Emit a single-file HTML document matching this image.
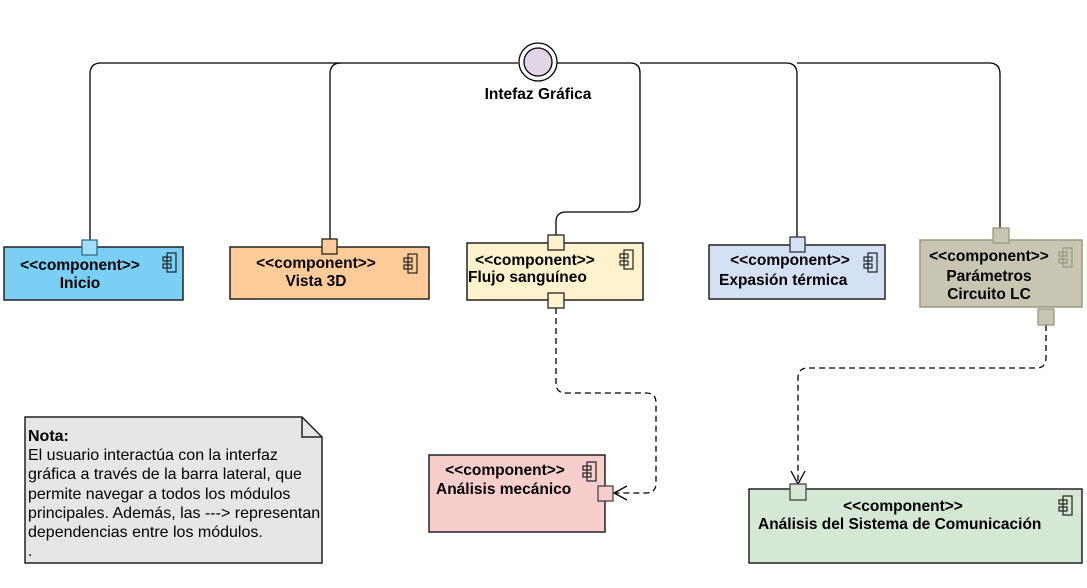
<!DOCTYPE html>
<html><head><meta charset="utf-8"><style>
html,body{margin:0;padding:0;background:#fff;}
svg{display:block;font-family:"Liberation Sans",Arial,sans-serif;}
.b{font-weight:bold;font-size:15.5px;fill:#000;}
</style></head><body>
<svg width="1087" height="588" viewBox="0 0 1087 588" xmlns="http://www.w3.org/2000/svg">
<g fill="none" stroke="#000" stroke-width="1.3">
<path d="M90 240 V74 Q90 63 101 63 H518"/>
<path d="M330 239 V74 Q330 63 341 63"/>
<path d="M557 63 H630 Q640 63 640 73 V202 Q640 212 630 212 H566 Q556 212 556 222 V235"/>
<path d="M640 63 H786 Q797 63 797 74 V237"/>
<path d="M797 63 H989 Q1000 63 1000 74 V228"/>
</g>
<g fill="none" stroke="#000" stroke-width="1.3" stroke-dasharray="6,4">
<path d="M556 308 V383 Q556 393 566 393 H646 Q656 393 656 403 V483 Q656 493 646 493 H614"/>
<path d="M1046 325 V358 Q1046 368 1036 368 H808 Q798 368 798 378 V484"/>
</g>
<g fill="none" stroke="#000" stroke-width="1.3">
<path d="M627 486 L614 493 L627 500"/>
<path d="M791 471 L798 484 L805 471"/>
</g>
<circle cx="538" cy="62" r="19" fill="#fff" stroke="#000" stroke-width="1.3"/>
<circle cx="538" cy="62" r="14" fill="#e1d5e7" stroke="#000" stroke-width="1.3"/>
<text x="538" y="99" text-anchor="middle" class="b">Intefaz Gráfica</text>

<rect x="4" y="247" width="179" height="53" fill="#7acff5" stroke="#222" stroke-width="1.5"/>
<rect x="82" y="240" width="15" height="15" fill="#a0dff7" stroke="#2d6f8f" stroke-width="1.3"/>
<text x="80" y="270" text-anchor="middle" class="b">&lt;&lt;component&gt;&gt;</text>
<text x="80" y="288" text-anchor="middle" class="b">Inicio</text>
<g fill="none" stroke="#222" stroke-width="1.2"><rect x="167" y="253" width="9" height="19"/><rect x="163" y="257" width="8" height="4"/><rect x="163" y="264" width="8" height="4"/></g>

<rect x="230" y="247" width="199" height="52" fill="#ffcc99" stroke="#222" stroke-width="1.5"/>
<rect x="322" y="239" width="15" height="15" fill="#ffcc99" stroke="#222" stroke-width="1.3"/>
<text x="316" y="268" text-anchor="middle" class="b">&lt;&lt;component&gt;&gt;</text>
<text x="316" y="286" text-anchor="middle" class="b">Vista 3D</text>
<g fill="none" stroke="#222" stroke-width="1.2"><rect x="408" y="254" width="9" height="19"/><rect x="404" y="258" width="8" height="4"/><rect x="404" y="265" width="8" height="4"/></g>

<rect x="467" y="243" width="176" height="57" fill="#fff2cc" stroke="#222" stroke-width="1.5"/>
<rect x="548" y="235" width="16" height="15" fill="#fff2cc" stroke="#222" stroke-width="1.3"/>
<rect x="548" y="293" width="16" height="15" fill="#fff2cc" stroke="#222" stroke-width="1.3"/>
<text x="535" y="265" text-anchor="middle" class="b">&lt;&lt;component&gt;&gt;</text>
<text x="468" y="282" class="b">Flujo sanguíneo</text>
<g fill="none" stroke="#222" stroke-width="1.2"><rect x="624" y="250" width="9" height="19"/><rect x="620" y="254" width="8" height="4"/><rect x="620" y="261" width="8" height="4"/></g>

<rect x="709" y="245" width="176" height="54" fill="#d4e1f5" stroke="#222" stroke-width="1.5"/>
<rect x="790" y="237" width="15" height="15" fill="#d4e1f5" stroke="#333" stroke-width="1.3"/>
<text x="790" y="265" text-anchor="middle" class="b">&lt;&lt;component&gt;&gt;</text>
<text x="719" y="285" class="b">Expasión térmica</text>
<g fill="none" stroke="#222" stroke-width="1.2"><rect x="868" y="253" width="9" height="19"/><rect x="864" y="257" width="8" height="4"/><rect x="864" y="264" width="8" height="4"/></g>

<rect x="920" y="240" width="162" height="67" fill="#c8c6b2" stroke="#9a987c" stroke-width="1.5"/>
<rect x="993" y="228" width="16" height="15" fill="#c8c6b2" stroke="#9a987c" stroke-width="1.3"/>
<rect x="1038" y="309" width="16" height="16" fill="#c8c6b2" stroke="#9a987c" stroke-width="1.3"/>
<text x="989" y="261" text-anchor="middle" class="b">&lt;&lt;component&gt;&gt;</text>
<text x="989" y="281" text-anchor="middle" class="b">Parámetros</text>
<text x="989" y="299" text-anchor="middle" class="b">Circuito LC</text>
<g fill="none" stroke="#9a987c" stroke-width="1.2"><rect x="1063" y="248" width="9" height="19"/><rect x="1059" y="252" width="8" height="4"/><rect x="1059" y="259" width="8" height="4"/></g>

<rect x="429" y="455" width="176" height="77" fill="#f8cecc" stroke="#222" stroke-width="1.5"/>
<rect x="598" y="486" width="15" height="15" fill="#f8cecc" stroke="#444" stroke-width="1.3"/>
<text x="505" y="475" text-anchor="middle" class="b">&lt;&lt;component&gt;&gt;</text>
<text x="436" y="494" class="b">Análisis mecánico</text>
<g fill="none" stroke="#222" stroke-width="1.2"><rect x="587" y="462" width="9" height="19"/><rect x="583" y="466" width="8" height="4"/><rect x="583" y="473" width="8" height="4"/></g>

<rect x="749" y="489" width="333" height="74" fill="#d5e8d4" stroke="#222" stroke-width="1.5"/>
<rect x="790" y="484" width="16" height="16" fill="#d5e8d4" stroke="#444" stroke-width="1.3"/>
<text x="903" y="511" text-anchor="middle" class="b">&lt;&lt;component&gt;&gt;</text>
<text x="758" y="529" class="b">Análisis del Sistema de Comunicación</text>
<g fill="none" stroke="#222" stroke-width="1.2"><rect x="1063" y="496" width="9" height="19"/><rect x="1059" y="500" width="8" height="4"/><rect x="1059" y="507" width="8" height="4"/></g>

<path d="M25 417 H302 L322 437 V563 H25 Z" fill="#e6e6e6" stroke="#222" stroke-width="1.5"/>
<path d="M302 417 V437 H322" fill="none" stroke="#222" stroke-width="1.5"/>
<g font-size="16" fill="#000">
<text x="28" y="441" font-weight="bold">Nota:</text>
<text x="28" y="460">El usuario interactúa con la interfaz</text>
<text x="28" y="479">gráfica a través de la barra lateral, que</text>
<text x="28" y="499">permite navegar a todos los módulos</text>
<text x="28" y="518">principales. Además, las ---&gt; representan</text>
<text x="28" y="537">dependencias entre los módulos.</text>
<text x="28" y="556">.</text>
</g>
</svg>
</body></html>
